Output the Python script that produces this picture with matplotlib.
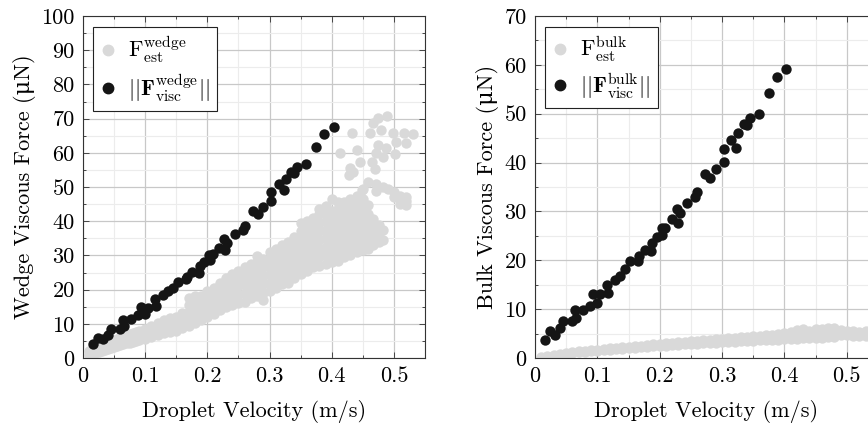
import numpy as np
import matplotlib as mpl
import matplotlib.pyplot as plt
from matplotlib.lines import Line2D
from matplotlib.ticker import MultipleLocator, FuncFormatter

mpl.rcParams["font.family"] = ["cmr10", "DejaVu Serif"]
mpl.rcParams["mathtext.fontset"] = "cm"
mpl.rcParams["axes.formatter.use_mathtext"] = True
mpl.rcParams["font.size"] = 16

# droplet velocity (m/s) and measured viscous forces (uN)
visc_v = [0.016, 0.024, 0.032, 0.040, 0.045, 0.059, 0.064, 0.066, 0.077, 0.088,
          0.093, 0.099, 0.105, 0.115, 0.117, 0.128, 0.136, 0.144, 0.152, 0.165,
          0.167, 0.176, 0.186, 0.188, 0.195, 0.203, 0.204, 0.209, 0.219, 0.227,
          0.229, 0.232, 0.244, 0.257, 0.260, 0.273, 0.281, 0.290, 0.303, 0.303,
          0.315, 0.323, 0.326, 0.335, 0.340, 0.344, 0.359, 0.375, 0.388, 0.403]
visc_wedge = [4.1, 5.9, 5.5, 6.8, 8.4, 8.6, 11.0, 9.5, 11.5, 12.5,
              15.0, 13.0, 14.5, 17.2, 15.2, 18.3, 19.5, 20.5, 22.3, 23.0,
              23.8, 25.2, 25.0, 26.8, 28.0, 30.2, 28.8, 30.5, 32.3, 34.8,
              31.7, 33.5, 36.2, 37.3, 38.6, 43.0, 42.0, 44.2, 46.0, 48.6,
              50.8, 49.0, 52.3, 54.5, 54.2, 55.8, 56.7, 61.8, 65.4, 67.4]
visc_bulk = [3.7, 5.5, 4.8, 6.1, 7.5, 7.5, 9.9, 8.2, 9.9, 10.6,
             13.0, 11.2, 13.0, 15.0, 13.3, 16.0, 16.7, 18.2, 19.8, 19.8,
             20.8, 22.2, 22.0, 23.5, 24.7, 26.6, 25.2, 26.7, 28.4, 30.5,
             27.7, 29.7, 31.8, 32.9, 33.9, 37.6, 36.9, 38.7, 40.2, 42.7,
             44.6, 42.9, 46.0, 47.9, 47.6, 49.1, 49.9, 54.2, 57.6, 59.2]

# estimated wedge force: (velocity, [forces at that velocity])
est_wedge = [
    (0.010, [0.8, 2.0]), (0.015, [1.2, 2.5]), (0.020, [1.5, 3.0]), (0.025, [1.8, 3.4]),
    (0.030, [2.0, 3.8]), (0.035, [2.3, 4.2]), (0.040, [2.6, 4.6]), (0.045, [2.9, 5.0]),
    (0.050, [3.2, 5.4]), (0.055, [3.5, 5.7]), (0.060, [3.8, 6.0]), (0.065, [4.0, 6.4]),
    (0.070, [4.3, 6.8]), (0.075, [4.5, 7.1]), (0.080, [4.8, 7.4]), (0.085, [5.0, 7.7]),
    (0.090, [5.2, 7.0, 8.0]), (0.100, [5.6, 7.2, 8.6]), (0.110, [6.2, 7.8, 9.4]),
    (0.120, [6.8, 8.5, 10.2]), (0.130, [7.2, 9.2, 11.0]), (0.140, [7.6, 9.8, 11.6]),
    (0.150, [8.0, 10.2, 12.0]), (0.160, [8.8, 11.0, 13.2]),
    (0.170, [9.5, 11.5, 13.5, 15.5, 17.5]), (0.180, [10.2, 12.2, 14.2, 16.2, 18.0]),
    (0.190, [11.0, 13.0, 15.0, 17.0, 18.2]), (0.200, [12.0, 14.0, 16.0, 18.0, 19.5]),
    (0.210, [13.0, 15.0, 17.0, 19.0, 20.5]), (0.220, [14.0, 16.0, 18.0, 20.0, 22.0]),
    (0.230, [15.0, 17.0, 19.0, 21.0, 23.5]), (0.240, [15.5, 17.5, 20.0, 22.5, 24.5]),
    (0.250, [16.0, 18.5, 21.0, 23.5, 25.5]), (0.260, [16.5, 19.0, 21.5, 24.0, 26.5]),
    (0.270, [17.5, 20.0, 22.5, 25.0, 27.5]), (0.280, [18.0, 20.5, 23.0, 25.5, 28.0, 29.8]),
    (0.290, [17.0, 19.0, 21.5, 24.0, 26.5, 29.0]), (0.300, [19.5, 22.0, 24.5, 27.0, 29.0, 31.0]),
    (0.310, [20.5, 23.0, 25.5, 28.0, 30.0, 32.0]), (0.320, [21.5, 24.0, 26.5, 29.0, 31.0, 33.0]),
    (0.330, [22.0, 24.5, 27.0, 29.5, 32.0, 34.0]), (0.340, [23.5, 26.0, 28.5, 31.0, 33.5, 35.5]),
    (0.350, [24.5, 27.0, 29.5, 32.0, 34.5, 37.0, 39.5]),
    (0.360, [25.5, 28.0, 30.5, 33.0, 35.5, 38.0, 40.0]),
    (0.370, [26.5, 29.0, 31.5, 34.0, 36.5, 39.0, 41.0]),
    (0.380, [27.0, 29.5, 32.0, 34.5, 37.0, 39.5, 42.0, 43.5]),
    (0.390, [27.5, 30.0, 32.5, 35.0, 37.5, 40.0, 42.5, 44.5]),
    (0.400, [28.0, 30.5, 33.0, 35.5, 38.0, 40.5, 43.0, 46.5]),
    (0.410, [28.5, 31.0, 33.5, 36.0, 38.5, 41.0, 43.5, 45.5]),
    (0.420, [29.5, 32.0, 34.5, 37.0, 39.5, 42.0, 44.5, 45.5]),
    (0.430, [30.0, 32.5, 35.0, 37.5, 40.0, 42.5, 45.0, 46.5]),
    (0.440, [31.0, 33.5, 36.0, 38.5, 41.0, 43.5, 46.0, 47.5]),
    (0.450, [31.5, 34.0, 36.5, 39.0, 41.5, 43.8, 46.5, 49.5]),
    (0.458, [32.0, 34.5, 37.0, 39.5, 42.0, 44.8, 51.5]),
    (0.466, [33.0, 35.5, 38.0, 40.5]), (0.472, [48.7, 51.0]),
    (0.476, [34.0, 36.5, 39.0]), (0.483, [34.6, 37.3, 50.0]),
    (0.490, [49.5]), (0.500, [47.0, 48.5]), (0.510, [45.0, 47.5]),
    (0.520, [44.8, 46.0, 47.1]), (0.448, [49.2]),
    # upper group
    (0.414, [59.9]), (0.428, [53.6]), (0.430, [55.5]), (0.433, [65.9]), (0.435, [54.5]),
    (0.441, [60.7]), (0.445, [57.4]), (0.461, [65.7]), (0.464, [57.4]), (0.467, [68.7]),
    (0.469, [55.2]), (0.472, [59.9]), (0.474, [70.1]), (0.475, [62.3]), (0.480, [66.7]),
    (0.482, [58.9]), (0.488, [61.3]), (0.489, [70.9]), (0.498, [65.7]), (0.501, [59.7]),
    (0.504, [63.3]), (0.517, [65.9]), (0.519, [62.8]), (0.530, [65.5]),
]

# estimated bulk force: (velocity, [forces at that velocity])
est_bulk = [
    (0.010, [0.3]), (0.020, [0.5]), (0.030, [0.7]), (0.040, [0.8]), (0.050, [0.9, 1.1]),
    (0.060, [1.0, 1.2]), (0.070, [1.2, 1.4]), (0.080, [1.3, 1.5]), (0.090, [1.4, 1.6]),
    (0.100, [1.5, 1.7]), (0.110, [1.6, 1.9]), (0.120, [1.7, 2.0]), (0.130, [1.8, 2.1]),
    (0.140, [1.9, 2.2]), (0.150, [2.0, 2.3]), (0.160, [2.1, 2.4]), (0.170, [2.2, 2.5]),
    (0.180, [2.3, 2.7]), (0.190, [2.4, 2.8]), (0.200, [2.5, 2.9]), (0.210, [2.5, 3.0]),
    (0.220, [2.6, 3.1]), (0.230, [2.7, 3.2]), (0.240, [2.8, 3.3]), (0.250, [2.8, 3.4]),
    (0.260, [2.9, 3.5]), (0.270, [3.0, 3.6]), (0.280, [3.1, 3.7]), (0.290, [3.1, 3.8]),
    (0.300, [3.2, 3.9]), (0.310, [3.3, 4.0]), (0.320, [3.3, 4.1]), (0.330, [3.4, 4.2]),
    (0.340, [3.5, 4.3]), (0.350, [3.5, 4.0, 4.5]), (0.360, [3.6, 4.1, 4.6]),
    (0.370, [3.6, 4.2, 4.7]), (0.380, [3.7, 4.3, 4.8]), (0.390, [3.7, 4.4, 5.0]),
    (0.400, [3.8, 4.5, 5.2]), (0.410, [3.8, 4.6, 5.4]), (0.420, [3.9, 4.8, 5.7]),
    (0.430, [4.0, 4.9, 5.9]), (0.440, [4.0, 4.9, 5.6]), (0.450, [4.1, 5.0, 5.9]),
    (0.460, [4.1, 5.1, 6.0]), (0.470, [4.2, 5.2, 6.2]), (0.480, [4.2, 5.2, 6.1]),
    (0.490, [4.8, 5.8]), (0.500, [4.8, 5.5]), (0.510, [4.6, 5.6]), (0.520, [4.5, 5.4]),
    (0.530, [4.6, 5.5]),
]

GRAY = "#d9d9d9"
BLACK = "#151515"
S = 56

fig = plt.figure(figsize=(8.68, 4.24), dpi=100)
ax1 = fig.add_axes([83 / 868, 66 / 424, 342 / 868, 342 / 424])
ax2 = fig.add_axes([535 / 868, 66 / 424, 343 / 868, 342 / 424])


def flatten(cols):
    v = [x for x, fs in cols for _ in fs]
    f = [y for _, fs in cols for y in fs]
    return v, f


def style(ax, ymax, ylabel):
    ax.set_xlim(0, 0.55)
    ax.set_ylim(0, ymax)
    ax.xaxis.set_major_locator(MultipleLocator(0.1))
    ax.xaxis.set_minor_locator(MultipleLocator(0.05))
    ax.yaxis.set_major_locator(MultipleLocator(10))
    ax.yaxis.set_minor_locator(MultipleLocator(5))
    ax.xaxis.set_major_formatter(FuncFormatter(lambda v, _: f"{v:g}"))
    ax.yaxis.set_major_formatter(FuncFormatter(lambda v, _: f"{v:g}"))
    ax.grid(which="major", color="#c8c8c8", linewidth=0.9)
    ax.grid(which="minor", color="#ececec", linewidth=0.8)
    ax.set_axisbelow(True)
    ax.tick_params(which="both", direction="in", top=True, right=True,
                   color="#444444", width=0.7)
    ax.tick_params(which="major", length=4, pad=6)
    ax.tick_params(which="minor", length=2.5)
    for sp in ax.spines.values():
        sp.set_color("#333333")
        sp.set_linewidth(0.8)
    ax.set_xlabel("Droplet Velocity (m/s)", labelpad=10)
    ax.set_ylabel(ylabel, labelpad=4)


ev, ef = flatten(est_wedge)
ax1.scatter(ev, ef, s=S, color=GRAY, linewidths=0, zorder=2)
ax1.scatter(visc_v, visc_wedge, s=S, color=BLACK, linewidths=0, zorder=3)
style(ax1, 100, "Wedge Viscous Force (\u03bcN)")

bv, bf = flatten(est_bulk)
ax2.scatter(bv, bf, s=S, color=GRAY, linewidths=0, zorder=2)
ax2.scatter(visc_v, visc_bulk, s=S, color=BLACK, linewidths=0, zorder=3)
style(ax2, 70, "Bulk Viscous Force (\u03bcN)")

for ax, name in [(ax1, "wedge"), (ax2, "bulk")]:
    handles = [
        Line2D([], [], marker="o", linestyle="none", markersize=7.5, color=GRAY),
        Line2D([], [], marker="o", linestyle="none", markersize=7.5, color=BLACK),
    ]
    labels = [
        r"$\mathrm{F}^{\mathrm{" + name + r"}}_{\mathrm{est}}$",
        r"$||\mathbf{F}^{\mathrm{" + name + r"}}_{\mathrm{visc}}||$",
    ]
    leg = ax.legend(handles, labels, loc="upper left", bbox_to_anchor=(0.03, 0.968),
                    borderaxespad=0, fancybox=False, framealpha=1, edgecolor="#222222",
                    handlelength=0.6, handletextpad=0.6, labelspacing=0.3,
                    borderpad=0.35)
    leg.get_frame().set_linewidth(0.8)

fig.savefig("out.png", dpi=100)
